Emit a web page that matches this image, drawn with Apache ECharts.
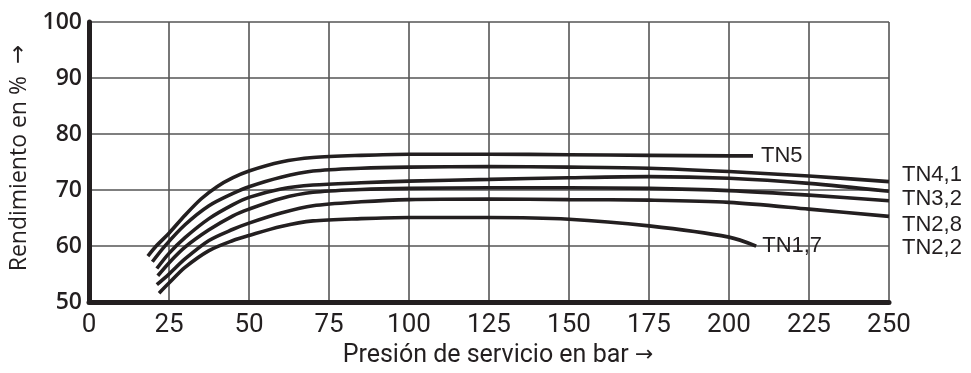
<!DOCTYPE html>
<html>
<head>
<meta charset="utf-8">
<script src="https://cdn.jsdelivr.net/npm/echarts@6/dist/echarts.min.js"></script>
<style>
  html, body { margin: 0; padding: 0; background: #ffffff; }
  #chart { width: 971px; height: 373px; }
</style>
</head>
<body>
<div id="chart"></div>
<script>
// Series names
const seriesNames = ['TN5', 'TN4,1', 'TN3,2', 'TN2,8', 'TN2,2', 'TN1,7'];

// Values: [pressure (bar), efficiency (%)]
const tn5  = [[18.4,58.2],[21,60.0],[25,62.3],[30,65.5],[35,68.4],[40,70.6],[45,72.2],[50,73.4],[60,75.0],[70,75.8],[85,76.2],[100,76.4],[125,76.4],[150,76.3],[175,76.2],[200,76.1],[207.5,76.1]];
const tn41 = [[19.8,57.2],[23.7,60.0],[30,63.8],[37.5,67.2],[45,69.4],[50,70.6],[60,72.3],[70,73.4],[85,73.9],[100,74.1],[125,74.2],[150,74.1],[175,73.9],[200,73.3],[225,72.5],[250,71.5]];
const tn32 = [[21.2,56.0],[25,58.7],[30,61.5],[37.5,64.9],[45,67.4],[50,68.7],[60,70.2],[70,70.9],[85,71.3],[100,71.6],[125,71.9],[150,72.2],[175,72.4],[200,72.1],[225,71.2],[250,69.8]];
const tn28 = [[21.5,54.7],[25,57.0],[30,59.8],[37.5,62.9],[45,65.4],[50,66.6],[60,68.5],[70,69.6],[85,70.1],[100,70.3],[125,70.4],[150,70.4],[175,70.3],[200,69.9],[225,69.1],[250,68.1]];
const tn22 = [[21.2,53.1],[25,55.0],[30,57.7],[37.5,61.0],[45,63.0],[50,64.1],[60,65.9],[70,67.2],[85,67.9],[100,68.3],[125,68.4],[150,68.3],[175,68.2],[200,67.8],[225,66.6],[250,65.3]];
const tn17 = [[21.9,51.6],[25,53.4],[30,56.2],[37.5,59.2],[45,61.0],[50,61.9],[60,63.5],[70,64.5],[85,64.9],[100,65.1],[125,65.1],[150,64.8],[175,63.6],[200,61.6],[208.5,60.0]];

// Axis ticks
const xTicks = { min: 0, max: 250, interval: 25 };
const yTicks = { min: 50, max: 100, interval: 10 };

const seriesData = [tn5, tn41, tn32, tn28, tn22, tn17];
const labelOffsets = [[8,0],[13,-7],[13,8],[13,24],[13,32],[6,0]];

const ink = '#231f20';

const chart = echarts.init(document.getElementById('chart'), null, { renderer: 'canvas' });

chart.setOption({
  animation: false,
  backgroundColor: '#ffffff',
  grid: { left: 88, right: 82, top: 22, bottom: 67, containLabel: false },
  xAxis: {
    type: 'value',
    min: xTicks.min, max: xTicks.max, interval: xTicks.interval,
    name: 'Presión de servicio en bar {a|\u2192}',
    nameLocation: 'middle',
    nameGap: 37,
    nameTextStyle: {
      fontFamily: 'Roboto, sans-serif', fontSize: 25, color: ink, padding: [0, 0, 0, 18],
      rich: { a: { fontFamily: 'DejaVu Sans, sans-serif', fontSize: 22, color: ink } }
    },
    axisLine: { show: true, onZero: false, lineStyle: { color: ink, width: 5 } },
    axisTick: { show: false },
    axisLabel: { margin: 10, fontFamily: 'Roboto, sans-serif', fontSize: 26, color: ink },
    splitLine: { show: true, lineStyle: { color: '#555555', width: 1.6 } }
  },
  yAxis: {
    type: 'value',
    min: yTicks.min, max: yTicks.max, interval: yTicks.interval,
    name: 'Rendimiento en %  {a|\u2192}',
    nameLocation: 'middle',
    nameGap: 58,
    nameTextStyle: {
      fontFamily: 'Open Sans, sans-serif', fontSize: 23, color: ink, padding: [0, 0, 0, 8],
      rich: { a: { fontFamily: 'DejaVu Sans, sans-serif', fontSize: 23, color: ink } }
    },
    axisLine: { show: true, onZero: false, lineStyle: { color: ink, width: 5 } },
    axisTick: { show: false },
    axisLabel: { margin: 7, fontFamily: 'Open Sans, sans-serif', fontWeight: 600, fontSize: 23, color: ink },
    splitLine: { show: true, lineStyle: { color: '#555555', width: 1.6 } }
  },
  series: seriesNames.map((name, i) => ({
    name: name,
    type: 'line',
    data: seriesData[i],
    smooth: 0.3,
    showSymbol: false,
    symbol: 'none',
    clip: false,
    lineStyle: { color: ink, width: 3.6 },
    endLabel: {
      show: true,
      formatter: name,
      position: 'right',
      distance: 0,
      offset: labelOffsets[i],
      fontFamily: 'Liberation Sans, Arial, sans-serif',
      fontSize: 22,
      color: ink
    },
    z: 3
  }))
});
</script>
</body>
</html>
